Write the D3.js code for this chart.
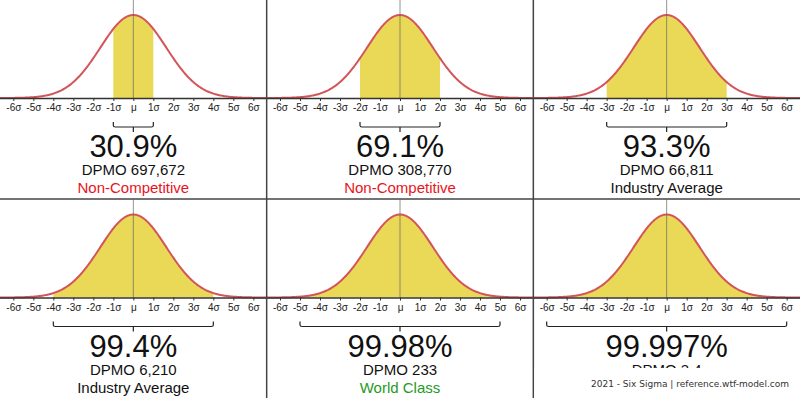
<!DOCTYPE html>
<html>
<head>
<meta charset="utf-8">
<script src="https://cdn.jsdelivr.net/npm/d3@7"></script>
<style>
  html, body { margin: 0; padding: 0; background: #fff; }
  svg { display: block; font-family: "Liberation Sans", Arial, sans-serif; }
</style>
</head>
<body>
<div id="chart"></div>
<script>
// Chart values
const sigmaLevels = [1, 2, 3, 4, 5, 6];
const yields = ["30.9%", "69.1%", "93.3%", "99.4%", "99.98%", "99.997%"];
const dpmo = ["697,672", "308,770", "66,811", "6,210", "233", "3.4"];
// last rating is hidden under the footer box in the original
const ratings = ["Non-Competitive", "Non-Competitive", "Industry Average", "Industry Average", "World Class", null];
const ratingColors = {"Non-Competitive": "#e8141c", "Industry Average": "#111", "World Class": "#1f9a1f"};
const tickValues = [-6, -5, -4, -3, -2, -1, 0, 1, 2, 3, 4, 5, 6];
const tickLabels = ["-6σ", "-5σ", "-4σ", "-3σ", "-2σ", "-1σ", "μ", "1σ", "2σ", "3σ", "4σ", "5σ", "6σ"];
const footer = "2021 - Six Sigma | reference.wtf-model.com";

const width = 800, height = 398;
const cols = 3, rowH = 199;
const panelW = width / cols;
const axisOffset = 98;      // axis y inside a panel
const peakH = 83;           // curve height in px
const curveSigma = 1.65;    // curve spread in tick units

const svg = d3.select("#chart").append("svg")
    .attr("width", width)
    .attr("height", height);

// normal curve points, sampled along the axis domain
const xs = d3.range(-6.7, 6.71, 0.05);
const pdf = x => Math.exp(-(x * x) / (2 * curveSigma * curveSigma));

sigmaLevels.forEach((k, i) => {
    const col = i % cols, row = Math.floor(i / cols);
    const x0 = col * panelW, top = row * (rowH + 0.5);
    const axisY = top + axisOffset;

    const x = d3.scaleLinear().domain([-panelW / 40, panelW / 40]).range([x0, x0 + panelW]);
    const y = d3.scaleLinear().domain([0, 1]).range([axisY, axisY - peakH]);

    const g = svg.append("g");

    // shaded area between -k and +k
    const inside = xs.filter(v => v >= -k && v <= k);
    inside.unshift(-k); inside.push(k);
    g.append("path")
        .datum(inside)
        .attr("d", d3.area().x(d => x(d)).y0(axisY).y1(d => y(pdf(d))))
        .attr("fill", "#e9d956");

    // curve
    g.append("path")
        .datum(xs)
        .attr("d", d3.line().x(d => x(d)).y(d => y(pdf(d))))
        .attr("fill", "none")
        .attr("stroke", "#d3555a")
        .attr("stroke-width", 2);

    // centre line
    g.append("line")
        .attr("x1", x(0)).attr("x2", x(0))
        .attr("y1", top).attr("y2", axisY)
        .attr("stroke", "#666")
        .attr("stroke-opacity", 0.7)
        .attr("stroke-width", 1);

    // axis
    const axis = d3.axisBottom(x)
        .tickValues(tickValues)
        .tickFormat((d, j) => tickLabels[j])
        .tickSize(3)
        .tickPadding(3);
    const ax = g.append("g")
        .attr("transform", `translate(0,${axisY})`)
        .call(axis);
    ax.select(".domain")
        .attr("d", `M${x0},0.5H${x0 + panelW}`)
        .attr("stroke", "#333")
        .attr("stroke-width", 1.6);
    ax.selectAll(".tick line").attr("stroke", "#333");
    ax.selectAll(".tick text")
        .attr("fill", "#222")
        .style("font-size", "10px")
        .style("font-family", "'Liberation Sans', Arial, sans-serif");

    // bracket under the shaded range
    const bx1 = x(-k), bx2 = x(k), cx = x(0);
    const b0 = axisY + 24, b1 = axisY + 29;
    g.append("path")
        .attr("d", `M${bx1},${b0}V${b1 - 1.5}Q${bx1},${b1} ${bx1 + 2},${b1}H${bx2 - 2}Q${bx2},${b1} ${bx2},${b1 - 1.5}V${b0}M${cx},${b1}V${b1 + 5}`)
        .attr("fill", "none")
        .attr("stroke", "#222")
        .attr("stroke-width", 1.2);

    // labels
    g.append("text")
        .attr("x", cx).attr("y", axisY + 59)
        .attr("text-anchor", "middle")
        .attr("fill", "#111")
        .style("font-size", "31px")
        .text(yields[i]);
    g.append("text")
        .attr("x", cx).attr("y", axisY + 77)
        .attr("text-anchor", "middle")
        .attr("fill", "#111")
        .style("font-size", "15px")
        .text("DPMO " + dpmo[i]);
    if (ratings[i]) {
        g.append("text")
            .attr("x", cx).attr("y", axisY + 95)
            .attr("text-anchor", "middle")
            .attr("fill", ratingColors[ratings[i]])
            .style("font-size", "15px")
            .text(ratings[i]);
    }
});

// panel separators
[1, 2].forEach(c => {
    svg.append("line")
        .attr("x1", c * panelW).attr("x2", c * panelW)
        .attr("y1", 0).attr("y2", height)
        .attr("stroke", "#444").attr("stroke-width", 1.5);
});
svg.append("line")
    .attr("x1", 0).attr("x2", width)
    .attr("y1", rowH).attr("y2", rowH)
    .attr("stroke", "#444").attr("stroke-width", 1.5);

// footer box
svg.append("rect")
    .attr("x", 2 * panelW + 1).attr("y", 368)
    .attr("width", panelW).attr("height", height - 368)
    .attr("fill", "#fff");
svg.append("text")
    .attr("x", 789).attr("y", 387)
    .attr("text-anchor", "end")
    .attr("fill", "#333")
    .style("font-size", "9px")
    .style("font-family", "'DejaVu Sans', Verdana, sans-serif")
    .text(footer);
</script>
</body>
</html>
